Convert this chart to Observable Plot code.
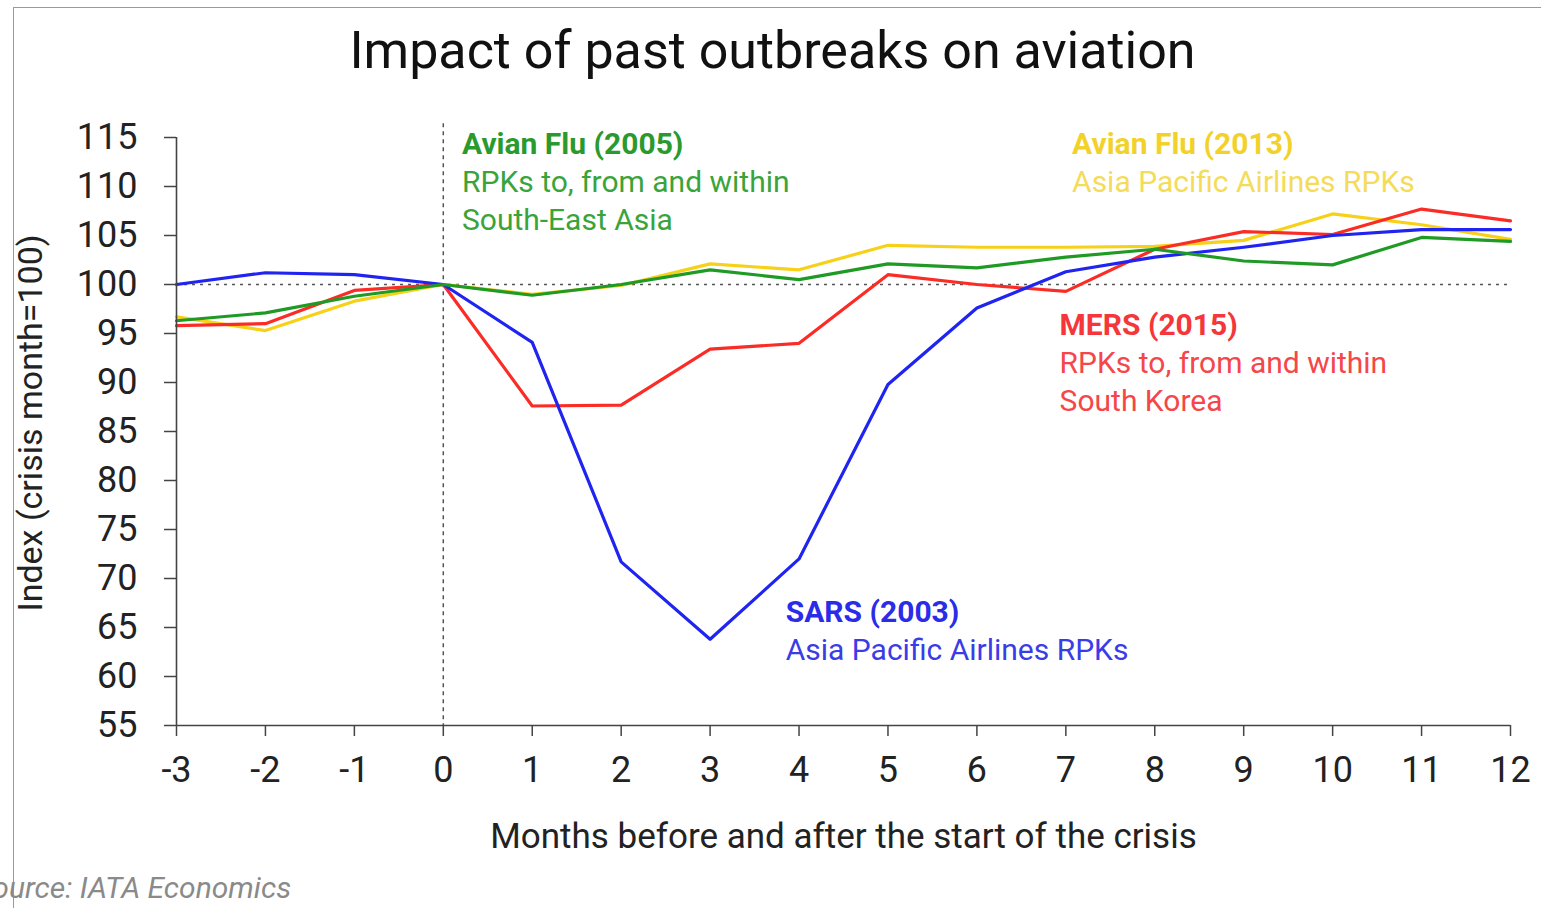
<!DOCTYPE html>
<html>
<head>
<meta charset="utf-8">
<script src="https://cdn.jsdelivr.net/npm/d3@7"></script>
<script src="https://cdn.jsdelivr.net/npm/@observablehq/plot@0.6"></script>
<style>
  html, body { margin: 0; padding: 0; background: #fff; overflow: hidden; }
  #wrap { position: relative; width: 1541px; height: 908px; overflow: hidden; font-family: Roboto, "Liberation Sans", sans-serif; }
  #frame { position: absolute; left: 13px; top: 7px; width: 1600px; height: 1000px; border-left: 1.5px solid #9a9a9a; border-top: 1.5px solid #9a9a9a; }
  #title { position: absolute; left: 0; width: 1545px; top: 20px; text-align: center; font-size: 52px; color: #111; }
  #source { position: absolute; left: -25px; top: 870px; font-size: 30px; font-style: italic; color: #8a8a8a; white-space: nowrap; }
  #ylabel { position: absolute; left: 30px; top: 423px; transform: translate(-50%, -50%) rotate(-90deg); font-size: 34px; color: #222; white-space: nowrap; }
  #chart { position: absolute; left: 0; top: 0; }
</style>
</head>
<body>
<div id="wrap">
  <div id="frame"></div>
  <div id="chart"></div>
  <div id="title">Impact of past outbreaks on aviation</div>
  <div id="ylabel">Index (crisis month=100)</div>
  <div id="source">Source: IATA Economics</div>
</div>
<script>
// Months before/after crisis start
const months = [-3, -2, -1, 0, 1, 2, 3, 4, 5, 6, 7, 8, 9, 10, 11, 12];
// Index values (crisis month = 100)
const sars2003   = [100, 101.2, 101.0, 100, 94.1, 71.7, 63.8, 72.0, 89.8, 97.6, 101.3, 102.8, 103.8, 105.0, 105.6, 105.6];
const mers2015   = [95.8, 96.0, 99.4, 100, 87.6, 87.7, 93.4, 94.0, 101.0, 100.0, 99.3, 103.6, 105.4, 105.1, 107.7, 106.5];
const flu2005    = [96.3, 97.1, 98.8, 100, 98.9, 100.0, 101.5, 100.5, 102.1, 101.7, 102.8, 103.6, 102.4, 102.0, 104.8, 104.4];
const flu2013    = [96.7, 95.3, 98.3, 100, 99.0, 99.9, 102.1, 101.5, 104.0, 103.8, 103.8, 103.9, 104.5, 107.2, 106.1, 104.6];
const yTicks = [55, 60, 65, 70, 75, 80, 85, 90, 95, 100, 105, 110, 115];

const seriesList = [
  {name: "Avian Flu (2013)", values: flu2013, color: "#f7d117"},
  {name: "MERS (2015)", values: mers2015, color: "#fb2c26"},
  {name: "SARS (2003)", values: sars2003, color: "#1f24f0"},
  {name: "Avian Flu (2005)", values: flu2005, color: "#1f9a24"}
];
const rows = seriesList.flatMap(s => months.map((m, i) => ({series: s.name, month: m, value: s.values[i]})));

// Annotations (data coordinates)
const noteTitles = [
  {x: 0.21, y: 114.3, text: "Avian Flu (2005)", color: "#2a9a2e"},
  {x: 7.07, y: 114.3, text: "Avian Flu (2013)", color: "#f2d22a"},
  {x: 6.93, y: 95.8, text: "MERS (2015)", color: "#f5363a"},
  {x: 3.85, y: 66.5, text: "SARS (2003)", color: "#2a2ce8"}
];
const noteLines = [
  {x: 0.21, y: 110.4, text: "RPKs to, from and within", color: "#3aa43a"},
  {x: 0.21, y: 106.5, text: "South-East Asia", color: "#3aa43a"},
  {x: 7.07, y: 110.4, text: "Asia Pacific Airlines RPKs", color: "#f4dc5a"},
  {x: 6.93, y: 92.0, text: "RPKs to, from and within", color: "#f5464a"},
  {x: 6.93, y: 88.1, text: "South Korea", color: "#f5464a"},
  {x: 3.85, y: 62.7, text: "Asia Pacific Airlines RPKs", color: "#3a3ce8"}
];

const chart = Plot.plot({
  width: 1541,
  height: 908,
  marginLeft: 176,
  marginRight: 31,
  marginTop: 137,
  marginBottom: 183,
  style: {fontFamily: "Roboto, 'Liberation Sans', sans-serif", fontSize: "36px", color: "#222", background: "transparent", overflow: "visible"},
  x: {domain: [-3, 12]},
  y: {domain: [55, 115]},
  color: {domain: seriesList.map(s => s.name), range: seriesList.map(s => s.color)},
  marks: [
    Plot.ruleY([100], {stroke: "#555", strokeWidth: 1.5, strokeDasharray: "3,5"}),
    Plot.ruleX([0], {y1: 116.4, y2: 55, stroke: "#555", strokeWidth: 1.5, strokeDasharray: "4,4", clip: false}),
    Plot.line(rows, {x: "month", y: "value", z: "series", stroke: "series", strokeWidth: 3.2, curve: "linear"}),
    Plot.ruleX([-3], {stroke: "#444", strokeWidth: 1.6}),
    Plot.ruleY([55], {stroke: "#444", strokeWidth: 1.6}),
    Plot.axisY({ticks: yTicks, tickSize: 12, tickPadding: 27, stroke: "#444", strokeWidth: 1.5, fontSize: 36, label: null}),
    Plot.axisX({ticks: months, tickSize: 11, tickPadding: 20, stroke: "#444", strokeWidth: 1.5, fontSize: 36, label: null, tickFormat: d => String(d)}),
    Plot.text(["Months before and after the start of the crisis"], {frameAnchor: "bottom", dy: 122, fontSize: 35, fill: "#222"}),
    Plot.text(noteTitles, {x: "x", y: "y", text: "text", fill: "color", fontWeight: "bold", textAnchor: "start", fontSize: 30}),
    Plot.text(noteLines, {x: "x", y: "y", text: "text", fill: "color", textAnchor: "start", fontSize: 30})
  ]
});
document.getElementById("chart").appendChild(chart);
</script>
</body>
</html>
